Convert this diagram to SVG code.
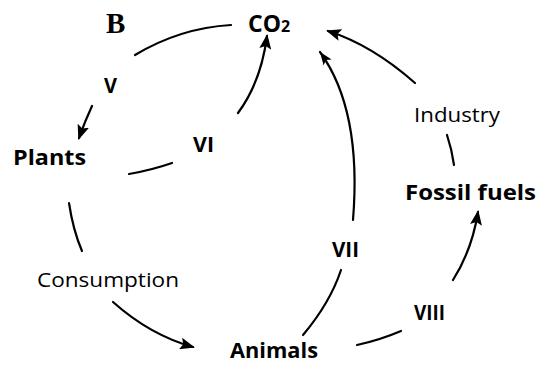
<svg xmlns="http://www.w3.org/2000/svg" width="538" height="367" viewBox="0 0 538 367">
<defs>
<style>
.c{fill:none;stroke:#000;stroke-width:2.2;stroke-linecap:round}
.b{font-family:"Open Sans","Liberation Sans",sans-serif;font-weight:bold;font-size:21px;fill:#000}
.n{font-family:"Open Sans","Liberation Sans",sans-serif;font-size:20px;fill:#000}
.r{font-family:"Open Sans","Liberation Sans",sans-serif;font-weight:bold;font-size:21px;fill:#000}
</style>
<marker id="ah" markerWidth="15" markerHeight="12" refX="13" refY="6" orient="auto" markerUnits="userSpaceOnUse">
<path d="M0,0 L15,6 L0,12 L3,6 Z" fill="#000"/>
</marker>
<marker id="ho" markerWidth="16" markerHeight="12" refX="14" refY="6" orient="auto" markerUnits="userSpaceOnUse">
<path d="M1,1 L14,6 L1,11 L4,6 Z" fill="#000"/>
</marker>
</defs>
<rect width="538" height="367" fill="#fff"/>
<g id="connectors">
<path class="c" d="M231,25 Q180,28 135,55"/>
<path class="c" d="M92,106 Q85,121 79,138" marker-end="url(#ah)"/>
<path class="c" d="M129,174 Q152,170 172,163"/>
<path class="c" d="M238,113 Q261,82 267,36" marker-end="url(#ah)"/>
<path class="c" d="M415,83 Q372,45 328,31" marker-end="url(#ah)"/>
<path class="c" d="M303,335 Q330,303 341,270"/>
<path class="c" d="M353,220 Q362,110 320,52" marker-end="url(#ho)"/>
<path d="M327,84 L321,60" stroke="#fff" stroke-width="1.2" fill="none"/>
<path class="c" d="M447,135 Q452,150 454,165"/>
<path class="c" d="M453,280 Q472,250 478,212" marker-end="url(#ah)"/>
<path class="c" d="M357,345 Q380,340 401,331"/>
<path class="c" d="M69,203 Q73,230 82,251"/>
<path class="c" d="M113,302 Q150,335 193,347" marker-end="url(#ah)"/>
</g>
<g id="label-B"><text x="106" y="33" style="font-family:'Liberation Serif',serif;font-weight:bold;font-size:29px">B</text></g>
<g id="node-co2"><text class="b" x="248" y="32" style="font-size:23px">CO<tspan font-size="16">2</tspan></text></g>
<g id="label-V"><text class="r" x="104" y="93" textLength="13" lengthAdjust="spacingAndGlyphs">V</text></g>
<g id="label-VI"><text class="r" x="193" y="152" textLength="21" lengthAdjust="spacingAndGlyphs">VI</text></g>
<g id="node-plants"><text class="b" x="13" y="165" textLength="73" lengthAdjust="spacingAndGlyphs">Plants</text></g>
<g id="label-industry"><text class="n" x="414" y="122" textLength="86" lengthAdjust="spacingAndGlyphs">Industry</text></g>
<g id="node-fossil"><text class="b" x="405" y="200" textLength="131" lengthAdjust="spacingAndGlyphs">Fossil fuels</text></g>
<g id="label-VII"><text class="r" x="332" y="257" textLength="27" lengthAdjust="spacingAndGlyphs">VII</text></g>
<g id="label-consumption"><text class="n" x="37" y="287" textLength="142" lengthAdjust="spacingAndGlyphs">Consumption</text></g>
<g id="label-VIII"><text class="r" x="414" y="320" textLength="31" lengthAdjust="spacingAndGlyphs">VIII</text></g>
<g id="node-animals"><text class="b" x="230" y="358" textLength="88" lengthAdjust="spacingAndGlyphs">Animals</text></g>
</svg>
